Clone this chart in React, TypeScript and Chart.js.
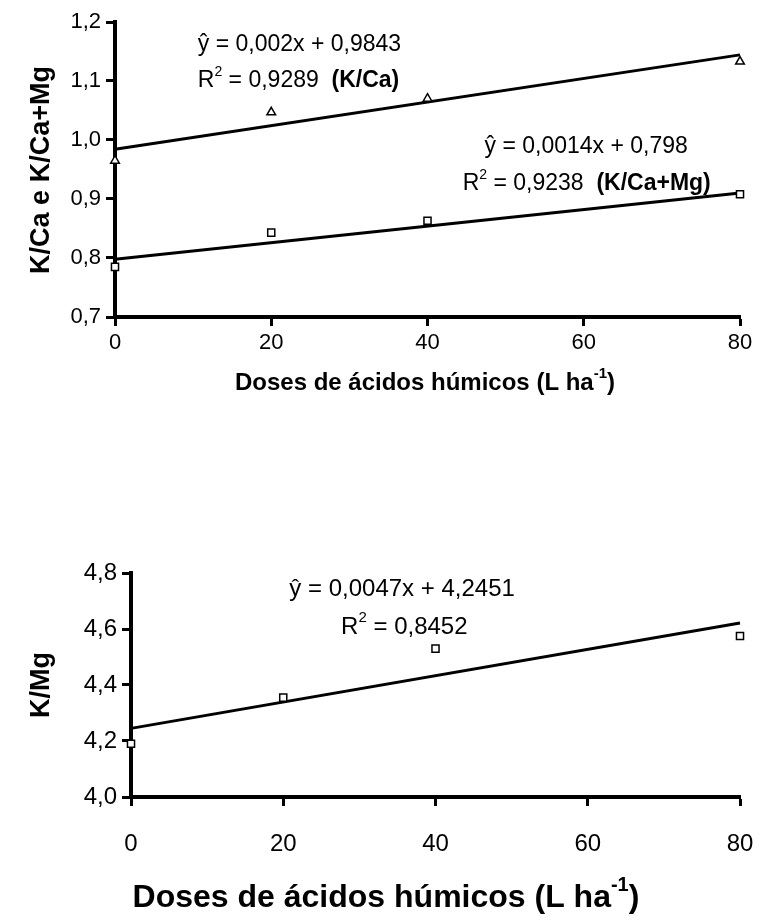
import React, { useEffect, useRef } from "react";
import { Chart, registerables } from "chart.js";

Chart.register(...registerables);

// ---- Data ----
const doses = [0, 20, 40, 80];
const kCa = [0.965, 1.047, 1.07, 1.133];
const kCaMg = [0.785, 0.843, 0.863, 0.908];
const kMg = [4.19, 4.355, 4.53, 4.575];

const trendX = [0, 80];
const kCaTrend = [0.9843, 1.1443];
const kCaMgTrend = [0.798, 0.91];
const kMgTrend = [4.2451, 4.6211];

const xTicks = [0, 20, 40, 60, 80];
const topYTicks = [0.7, 0.8, 0.9, 1.0, 1.1, 1.2];
const botYTicks = [4.0, 4.2, 4.4, 4.6, 4.8];

const xTitle = "Doses de ácidos húmicos (L ha";
const xTitleSup = "-1";
const topYTitle = "K/Ca e K/Ca+Mg";
const botYTitle = "K/Mg";

const FONT = "'Liberation Sans', Arial, sans-serif";

type Ann = { x: number; y: number; parts: { t: string; bold?: boolean; sup?: boolean }[] };

const topAnns: Ann[] = [
  { x: 10.6, y: 1.161, parts: [{ t: "ŷ = 0,002x + 0,9843" }] },
  { x: 10.6, y: 1.101, parts: [{ t: "R" }, { t: "2", sup: true }, { t: " = 0,9289  " }, { t: "(K/Ca)", bold: true }] },
  { x: 47.3, y: 0.988, parts: [{ t: "ŷ = 0,0014x + 0,798" }] },
  { x: 44.5, y: 0.926, parts: [{ t: "R" }, { t: "2", sup: true }, { t: " = 0,9238  " }, { t: "(K/Ca+Mg)", bold: true }] },
];
const botAnns: Ann[] = [
  { x: 20.8, y: 4.743, parts: [{ t: "ŷ = 0,0047x + 4,2451" }] },
  { x: 27.6, y: 4.607, parts: [{ t: "R" }, { t: "2", sup: true }, { t: " = 0,8452" }] },
];

function fmt(v: number) {
  return v.toFixed(1).replace(".", ",");
}

function makeChart(
  canvas: HTMLCanvasElement,
  opts: {
    series: { data: number[]; style: string }[];
    trends: number[][];
    yMin: number;
    yMax: number;
    yTicks: number[];
    anns: Ann[];
    yTitle: string;
    tickSize: number;
    titleSize: number;
    yTitleSize: number;
    annSize: number;
    padding: { left: number; right: number; top: number; bottom: number };
    yAxisWidth: number;
    xAxisHeight: number;
    xTickPad: number;
    yTitleX: number;
    yTitleCY: number;
    xTitleY: number;
    xTitleCX: number;
  }
) {
  const annPlugin = {
    id: "anns",
    afterDraw(chart: any) {
      const ctx = chart.ctx as CanvasRenderingContext2D;
      const xs = chart.scales.x;
      const ys = chart.scales.y;
      ctx.save();
      ctx.fillStyle = "#000";
      ctx.textBaseline = "middle";
      ctx.textAlign = "left";
      for (const a of opts.anns) {
        let px = xs.getPixelForValue(a.x);
        const py = ys.getPixelForValue(a.y);
        for (const p of a.parts) {
          const size = p.sup ? Math.round(opts.annSize * 0.62) : opts.annSize;
          ctx.font = `${p.bold ? "bold " : ""}${size}px ${FONT}`;
          ctx.fillText(p.t, px, p.sup ? py - opts.annSize * 0.38 : py);
          px += ctx.measureText(p.t).width;
        }
      }
      // x title with superscript
      const cx = opts.xTitleCX;
      const supSize = Math.round(opts.titleSize * 0.62);
      ctx.font = `bold ${opts.titleSize}px ${FONT}`;
      const w1 = ctx.measureText(xTitle).width;
      const w3 = ctx.measureText(")").width;
      ctx.font = `bold ${supSize}px ${FONT}`;
      const w2 = ctx.measureText(xTitleSup).width;
      let sx = cx - (w1 + w2 + w3) / 2;
      ctx.font = `bold ${opts.titleSize}px ${FONT}`;
      ctx.fillText(xTitle, sx, opts.xTitleY);
      sx += w1;
      ctx.font = `bold ${supSize}px ${FONT}`;
      ctx.fillText(xTitleSup, sx, opts.xTitleY - opts.titleSize * 0.4);
      sx += w2;
      ctx.font = `bold ${opts.titleSize}px ${FONT}`;
      ctx.fillText(")", sx, opts.xTitleY);
      // y title
      ctx.translate(opts.yTitleX, opts.yTitleCY);
      ctx.rotate(-Math.PI / 2);
      ctx.textAlign = "center";
      ctx.font = `bold ${opts.yTitleSize}px ${FONT}`;
      ctx.fillText(opts.yTitle, 0, 0);
      ctx.restore();
    },
  };

  const datasets: any[] = [];
  opts.trends.forEach((t) => {
    datasets.push({
      type: "line",
      data: trendX.map((x, i) => ({ x, y: t[i] })),
      borderColor: "#000",
      borderWidth: 3,
      pointRadius: 0,
      fill: false,
      clip: false,
      order: 2,
    });
  });
  opts.series.forEach((s) => {
    datasets.push({
      type: "scatter",
      data: doses.map((x, i) => ({ x, y: s.data[i] })),
      pointStyle: s.style,
      pointRadius: 5,
      pointBackgroundColor: "#fff",
      pointBorderColor: "#000",
      pointBorderWidth: 1.5,
      clip: false,
      order: 1,
    });
  });

  const gridOpts = {
    display: true,
    drawOnChartArea: false,
    drawTicks: true,
    tickLength: 9,
    tickWidth: 3,
    tickColor: "#000",
  };

  return new Chart(canvas, {
    type: "scatter",
    data: { datasets },
    plugins: [annPlugin],
    options: {
      animation: false,
      responsive: false,
      maintainAspectRatio: false,
      devicePixelRatio: 1,
      layout: { padding: opts.padding },
      plugins: { legend: { display: false }, tooltip: { enabled: false } },
      scales: {
        x: {
          type: "linear",
          min: 0,
          max: 80,
          afterBuildTicks: (s: any) => {
            s.ticks = xTicks.map((v) => ({ value: v }));
          },
          afterFit: (s: any) => {
            s.height = opts.xAxisHeight;
            s.paddingLeft = 0;
            s.paddingRight = 0;
          },
          ticks: {
            color: "#000",
            font: { family: FONT, size: opts.tickSize },
            padding: opts.xTickPad,
            maxRotation: 0,
            callback: (v: any) => String(v),
          },
          grid: gridOpts,
          border: { display: true, color: "#000", width: 4 },
        },
        y: {
          type: "linear",
          min: opts.yMin,
          max: opts.yMax,
          afterBuildTicks: (s: any) => {
            s.ticks = opts.yTicks.map((v) => ({ value: v }));
          },
          afterFit: (s: any) => {
            s.width = opts.yAxisWidth;
            s.paddingTop = 0;
            s.paddingBottom = 0;
          },
          ticks: {
            color: "#000",
            font: { family: FONT, size: opts.tickSize },
            padding: 5,
            callback: (v: any) => fmt(Number(v)),
          },
          grid: gridOpts,
          border: { display: true, color: "#000", width: 4 },
        },
      },
    },
  } as any);
}

export default function App() {
  const topRef = useRef<HTMLCanvasElement>(null);
  const botRef = useRef<HTMLCanvasElement>(null);

  useEffect(() => {
    const c1 = makeChart(topRef.current!, {
      series: [
        { data: kCa, style: "triangle" },
        { data: kCaMg, style: "rect" },
      ],
      trends: [kCaTrend, kCaMgTrend],
      yMin: 0.7,
      yMax: 1.2,
      yTicks: topYTicks,
      anns: topAnns,
      yTitle: topYTitle,
      tickSize: 22,
      titleSize: 24,
      yTitleSize: 27,
      annSize: 23,
      padding: { left: 0, right: 31, top: 22, bottom: 0 },
      yAxisWidth: 115,
      xAxisHeight: 103,
      xTickPad: 4,
      yTitleX: 42,
      yTitleCY: 170,
      xTitleY: 383,
      xTitleCX: 425,
    });
    const c2 = makeChart(botRef.current!, {
      series: [{ data: kMg, style: "rect" }],
      trends: [kMgTrend],
      yMin: 4.0,
      yMax: 4.8,
      yTicks: botYTicks,
      anns: botAnns,
      yTitle: botYTitle,
      tickSize: 24,
      titleSize: 32,
      yTitleSize: 27,
      annSize: 24,
      padding: { left: 0, right: 31, top: 103, bottom: 0 },
      yAxisWidth: 131,
      xAxisHeight: 127,
      xTickPad: 24,
      yTitleX: 42,
      yTitleCY: 215,
      xTitleY: 428,
      xTitleCX: 386,
    });
    return () => {
      c1.destroy();
      c2.destroy();
    };
  }, []);

  return (
    <div style={{ position: "absolute", left: 0, top: 0, width: 771, height: 924, background: "#fff" }}>
      <canvas ref={topRef} width={771} height={420} style={{ position: "absolute", left: 0, top: 0, width: 771, height: 420 }} />
      <canvas ref={botRef} width={771} height={454} style={{ position: "absolute", left: 0, top: 470, width: 771, height: 454 }} />
    </div>
  );
}
